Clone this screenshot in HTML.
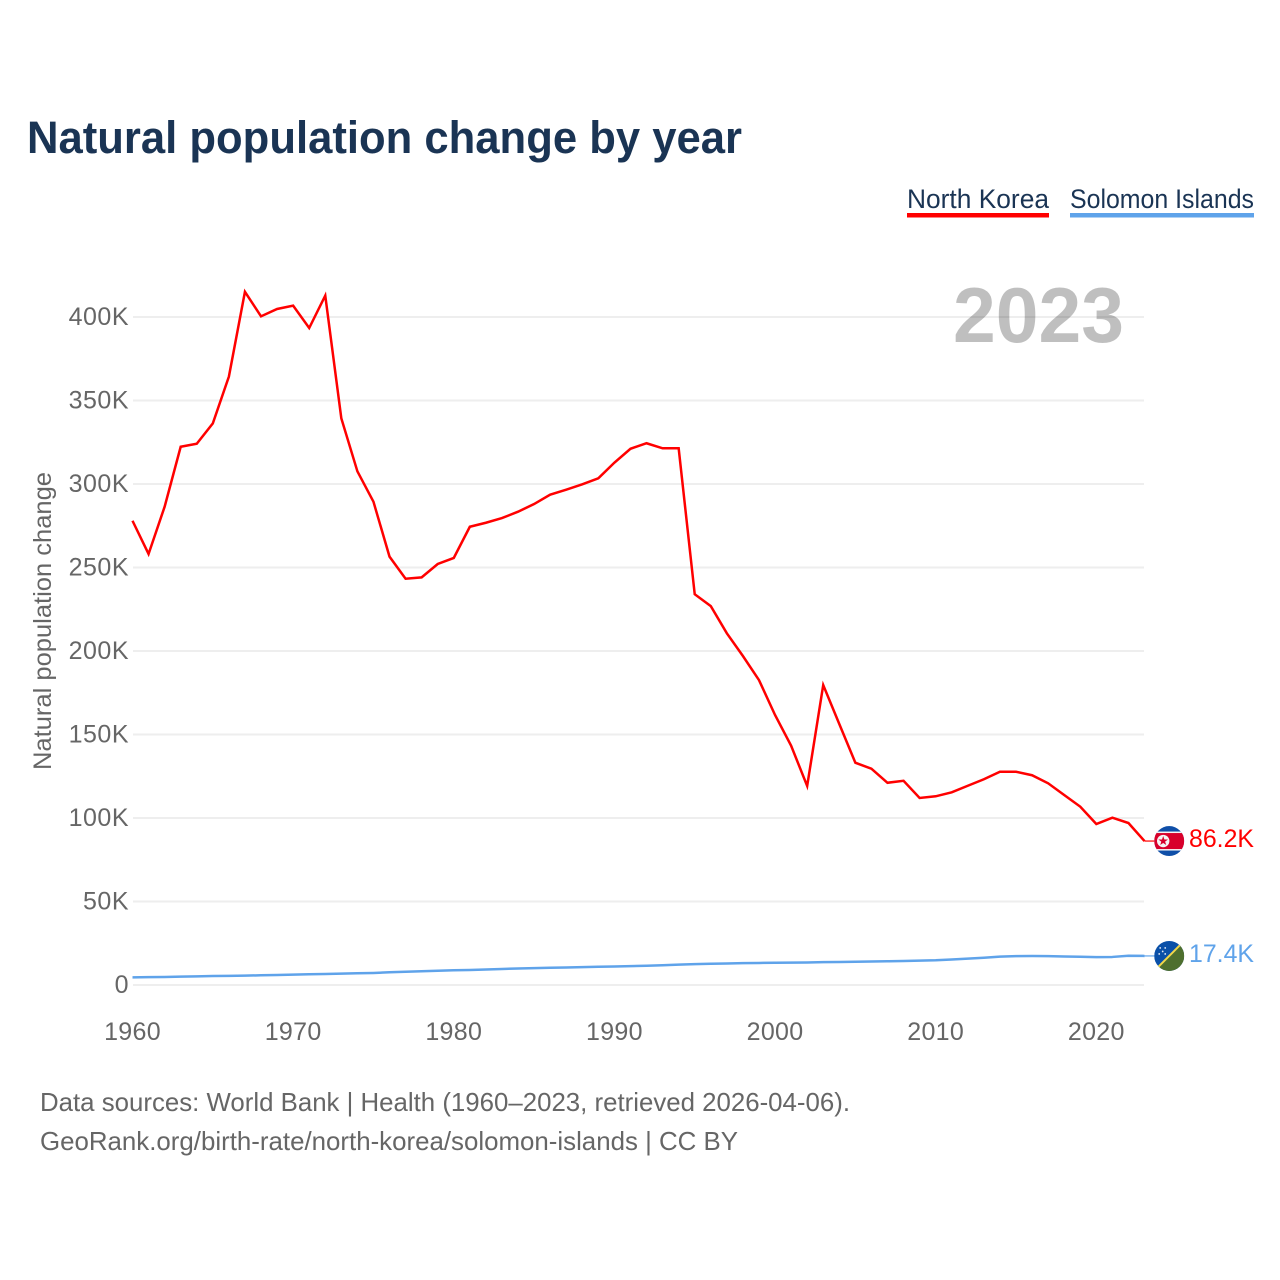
<!DOCTYPE html>
<html lang="en">
<head>
<meta charset="utf-8">
<title>Natural population change by year</title>
<style>
html,body{margin:0;padding:0;background:#fff;}
svg{display:block;font-family:"Liberation Sans",sans-serif;}
</style>
</head>
<body>
<svg id="chart" xmlns="http://www.w3.org/2000/svg" width="1280" height="1280" viewBox="0 0 1280 1280">
  <rect width="1280" height="1280" fill="#ffffff"/>
  <text x="27" y="153" font-size="45" font-weight="700" fill="#1a3454" textLength="715" lengthAdjust="spacingAndGlyphs">Natural population change by year</text>

  <g>
    <text x="907" y="208" font-size="27" fill="#1a3454" textLength="142" lengthAdjust="spacingAndGlyphs">North Korea</text>
    <rect x="907" y="213" width="142" height="4.5" fill="#ff0000"/>
  </g>
  <g>
    <text x="1070" y="208" font-size="27" fill="#1a3454" textLength="184" lengthAdjust="spacingAndGlyphs">Solomon Islands</text>
    <rect x="1070" y="213" width="184" height="4.5" fill="#5fa3ea"/>
  </g>

  <g id="grid"></g>
  <g id="y-ticks"></g>
  <g id="x-ticks"></g>

  <text x="1124" y="342" font-size="78" font-weight="700" fill="#000000" fill-opacity="0.25" text-anchor="end" textLength="171" lengthAdjust="spacingAndGlyphs">2023</text>

  <text transform="translate(51 621) rotate(-90)" font-size="25" fill="#666666" text-anchor="middle" textLength="298" lengthAdjust="spacingAndGlyphs">Natural population change</text>

  <path id="line-north-korea" fill="none" stroke="#ff0000" stroke-width="2.5" stroke-linejoin="miter"/>
  <path id="line-solomon-islands" fill="none" stroke="#5fa3ea" stroke-width="2.5" stroke-linejoin="round"/>
  <line id="leader-north-korea" stroke="#ff0000" stroke-width="1.2"/>
  <line id="leader-solomon-islands" stroke="#5fa3ea" stroke-width="1.2"/>

  <defs>
    <clipPath id="flag-clip-nk"><circle cx="0" cy="0" r="15"/></clipPath>
    <clipPath id="flag-clip-sb"><circle cx="0" cy="0" r="15"/></clipPath>
  </defs>

  <g id="flag-north-korea">
    <g clip-path="url(#flag-clip-nk)">
      <rect x="-15" y="-15" width="30" height="30" fill="#0f4fa8"/>
      <rect x="-15" y="-9.5" width="30" height="19" fill="#f4f4f4"/>
      <rect x="-15" y="-8" width="30" height="16" fill="#d8002b"/>
      <circle cx="-6" cy="0" r="6.2" fill="#f4f4f4"/>
      <polygon points="-6,-5 -4.8,-1.6 -1.2,-1.6 -4.1,0.6 -3,4 -6,2 -9,4 -7.9,0.6 -10.8,-1.6 -7.2,-1.6" fill="#d8002b"/>
    </g>
  </g>
  <g id="flag-solomon-islands">
    <g clip-path="url(#flag-clip-sb)">
      <rect x="-15" y="-15" width="30" height="30" fill="#0a50a8"/>
      <polygon points="15,-15 15,15 -15,15" fill="#4e6f2e"/>
      <line x1="-15" y1="15" x2="15" y2="-15" stroke="#f2d84a" stroke-width="2"/>
      <circle cx="-9" cy="-8" r="0.9" fill="#dfe8f5"/>
      <circle cx="-4" cy="-8" r="0.9" fill="#dfe8f5"/>
      <circle cx="-6.5" cy="-4.5" r="0.9" fill="#dfe8f5"/>
      <circle cx="-10" cy="-2" r="0.9" fill="#dfe8f5"/>
      <circle cx="-4" cy="-2" r="0.9" fill="#dfe8f5"/>
    </g>
  </g>

  <text id="value-north-korea" x="1254" font-size="25" fill="#ff0000" text-anchor="end" textLength="65" lengthAdjust="spacingAndGlyphs">86.2K</text>
  <text id="value-solomon-islands" x="1254" font-size="25" fill="#5fa3ea" text-anchor="end" textLength="65" lengthAdjust="spacingAndGlyphs">17.4K</text>

  <text x="40" y="1111" font-size="26" fill="#666666" textLength="810" lengthAdjust="spacingAndGlyphs">Data sources: World Bank | Health (1960–2023, retrieved 2026-04-06).</text>
  <text x="40" y="1150" font-size="26" fill="#666666" textLength="698" lengthAdjust="spacingAndGlyphs">GeoRank.org/birth-rate/north-korea/solomon-islands | CC BY</text>
</svg>

<script>
const startYear = 1960;
const northKorea = [278.0,258.1,286.4,322.3,324.1,336.3,364.3,415.1,400.4,404.8,406.8,393.4,412.8,339.3,307.6,289.4,256.5,243.3,244.1,252.1,255.7,274.4,276.8,279.6,283.4,288.0,293.6,296.6,299.8,303.4,312.8,321.1,324.4,321.4,321.4,234.0,226.9,210.6,197.0,182.6,161.7,143.3,119.2,179.6,156.3,133.1,129.5,121.1,122.3,112.0,113.0,115.4,119.3,123.2,127.7,127.7,125.6,120.8,113.8,106.8,96.4,100.2,97.0,86.2];
const solomonIslands = [4.6,4.7,4.8,5.0,5.2,5.4,5.5,5.6,5.8,6.0,6.2,6.4,6.6,6.8,7.0,7.2,7.6,7.9,8.2,8.5,8.8,9.0,9.3,9.6,9.9,10.1,10.3,10.5,10.7,10.9,11.1,11.3,11.5,11.8,12.2,12.5,12.7,12.9,13.1,13.2,13.3,13.4,13.5,13.7,13.8,13.9,14.1,14.2,14.4,14.6,14.8,15.3,15.8,16.3,17.0,17.3,17.4,17.3,17.1,16.9,16.7,16.8,17.5,17.4];
const yTicks = [0,50,100,150,200,250,300,350,400];
const xTicks = [1960,1970,1980,1990,2000,2010,2020];

const NS = 'http://www.w3.org/2000/svg';
const xScale = function (year) { return 132.5 + (year - 1960) * (1144.5 - 132.5) / 63; };
const yScale = function (v) { return 985 - v * 1.67; };
const tickLabel = function (v) { return v === 0 ? '0' : v + 'K'; };

const grid = document.getElementById('grid');
const yGroup = document.getElementById('y-ticks');
const xGroup = document.getElementById('x-ticks');

yTicks.forEach(function (v) {
  const line = document.createElementNS(NS, 'line');
  
  
  line.setAttribute('x1', 133);
  line.setAttribute('x2', 1144);
  line.setAttribute('y1', yScale(v));
  line.setAttribute('y2', yScale(v));
  line.setAttribute('stroke', '#eeeeee');
  line.setAttribute('stroke-width', 2);
  grid.appendChild(line);

  const t = document.createElementNS(NS, 'text');
  
  
  t.setAttribute('x', 129);
  t.setAttribute('y', yScale(v) + 8);
  t.setAttribute('font-size', 25);
  t.setAttribute('letter-spacing', 0.5);
  t.setAttribute('fill', '#666666');
  t.setAttribute('text-anchor', 'end');
  t.textContent = tickLabel(v);
  yGroup.appendChild(t);
});

xTicks.forEach(function (year) {
  const t = document.createElementNS(NS, 'text');
  
  
  t.setAttribute('x', xScale(year));
  t.setAttribute('y', 1040);
  t.setAttribute('font-size', 25);
  t.setAttribute('letter-spacing', 0.3);
  t.setAttribute('fill', '#666666');
  t.setAttribute('text-anchor', 'middle');
  t.textContent = year;
  xGroup.appendChild(t);
});

const linePath = function (values) {
  return values.map(function (v, i) {
    return (i ? 'L' : 'M') + xScale(startYear + i).toFixed(2) + ' ' + yScale(v).toFixed(2);
  }).join(' ');
};

const placeEnd = function (key, values) {
  const last = values[values.length - 1];
  const endX = xScale(startYear + values.length - 1);
  const endY = yScale(last);
  document.getElementById('line-' + key).setAttribute('d', linePath(values));
  const leader = document.getElementById('leader-' + key);
  leader.setAttribute('x1', endX);
  leader.setAttribute('x2', endX + 10);
  leader.setAttribute('y1', endY);
  leader.setAttribute('y2', endY);
  document.getElementById('flag-' + key).setAttribute('transform', 'translate(' + (endX + 24.7) + ' ' + endY + ')');
  const label = document.getElementById('value-' + key);
  label.setAttribute('y', endY + 6);
  label.textContent = last.toFixed(1) + 'K';
};

placeEnd('north-korea', northKorea);
placeEnd('solomon-islands', solomonIslands);
</script>
</body>
</html>
